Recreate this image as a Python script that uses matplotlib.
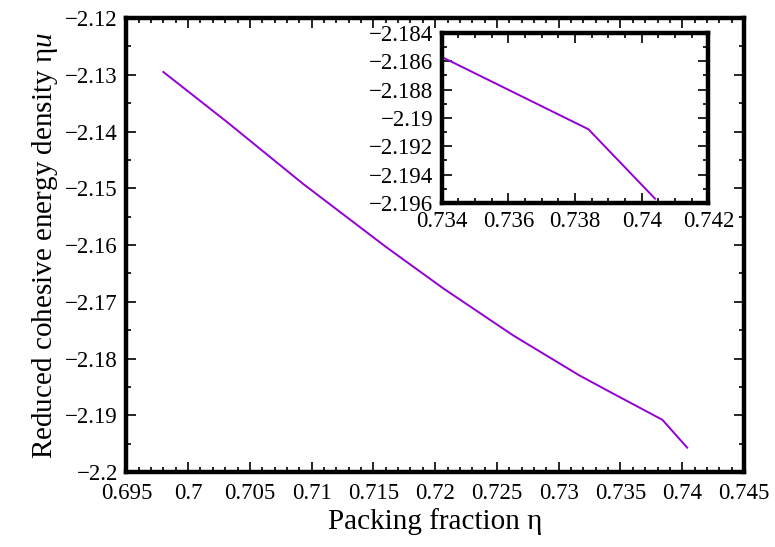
import matplotlib
matplotlib.use("Agg")
import matplotlib.pyplot as plt
from matplotlib.ticker import MultipleLocator, AutoMinorLocator, FuncFormatter

# packing fraction and reduced cohesive energy density
eta = [0.698, 0.7032, 0.7093, 0.7160, 0.7207, 0.7263, 0.7317, 0.7340,
       0.7384, 0.7404]
energy = [-2.1295, -2.1384, -2.1492, -2.1603, -2.1677, -2.1759, -2.1830,
          -2.1857, -2.1908, -2.1957]

plt.rcParams['font.family'] = ['Liberation Serif', 'DejaVu Serif']
plt.rcParams['mathtext.fontset'] = 'custom'
plt.rcParams['mathtext.it'] = 'Liberation Serif:italic'
plt.rcParams['mathtext.rm'] = 'Liberation Serif'

col = '#9400d3'


def gfmt(v, pos):
    s = '%g' % round(v, 6)
    return s.replace('-', '\u2212')


def style(ax, xmaj, xmin_n, ymaj, ymin_n, fs):
    ax.xaxis.set_major_locator(MultipleLocator(xmaj))
    ax.yaxis.set_major_locator(MultipleLocator(ymaj))
    ax.xaxis.set_minor_locator(AutoMinorLocator(xmin_n))
    ax.yaxis.set_minor_locator(AutoMinorLocator(ymin_n))
    ax.xaxis.set_major_formatter(FuncFormatter(gfmt))
    ax.yaxis.set_major_formatter(FuncFormatter(gfmt))
    ax.tick_params(which='both', direction='in', top=True, right=True,
                   labelsize=fs, width=1.2)
    ax.tick_params(which='major', length=7)
    ax.tick_params(which='minor', length=3.5)
    ax.tick_params(axis='x', which='major', pad=8)
    ax.tick_params(axis='y', which='major', pad=6)
    for sp in ax.spines.values():
        sp.set_linewidth(3.2)


fig = plt.figure(figsize=(7.75, 5.47), dpi=100)
ax = fig.add_axes([0.163, 0.137, 0.797, 0.830])
ax.plot(eta, energy, color=col, lw=1.4)
ax.set_xlim(0.695, 0.745)
ax.set_ylim(-2.2, -2.12)
style(ax, 0.005, 5, 0.01, 2, 16.5)
ax.set_xlabel('Packing fraction η', fontsize=21, labelpad=3)
ax.set_ylabel('Reduced cohesive energy density η$u$', fontsize=21, labelpad=4)

ins = fig.add_axes([0.570, 0.629, 0.344, 0.311])
ins.plot(eta, energy, color=col, lw=1.4)
ins.set_xlim(0.734, 0.742)
ins.set_ylim(-2.196, -2.184)
style(ins, 0.002, 4, 0.002, 2, 16.5)
ins.tick_params(axis='x', which='major', pad=6)

fig.savefig('out.png', dpi=100)
